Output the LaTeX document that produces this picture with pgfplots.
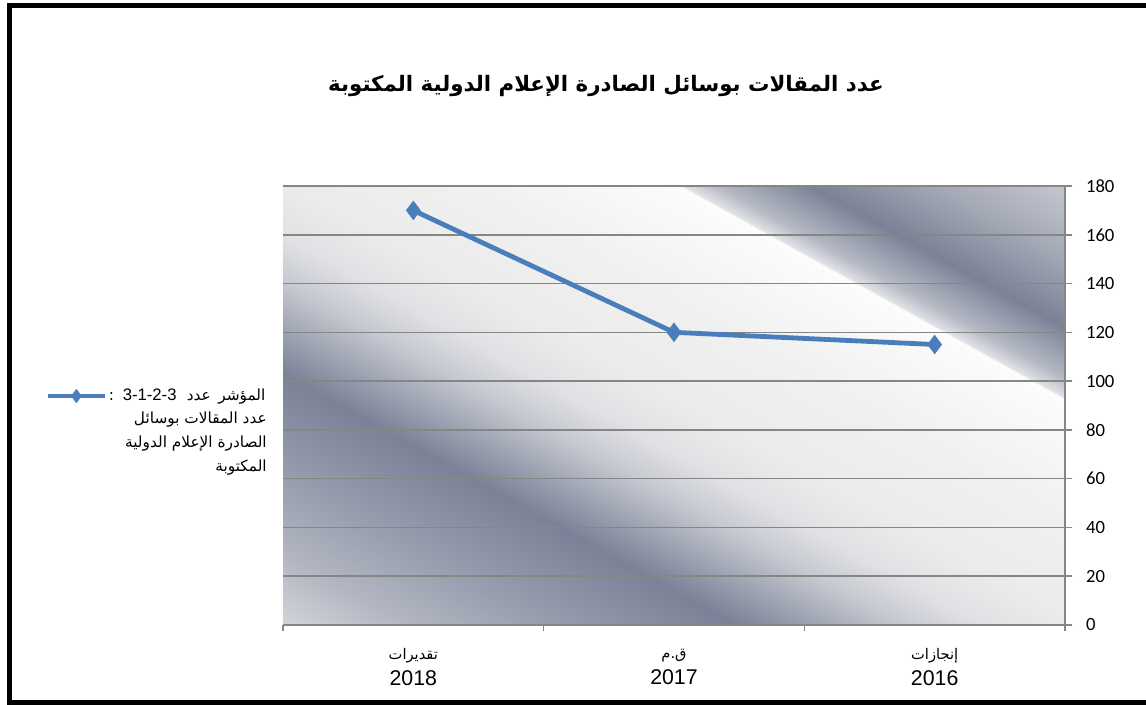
\documentclass[border=0pt]{standalone}
\usepackage{fontspec}
\setmainfont{Liberation Sans}
\newfontfamily\arabicfont[Script=Arabic]{DejaVu Sans}
\newfontfamily\calibri{Carlito}
\usepackage{pgfplots}
\pgfplotsset{compat=1.18}
\TeXXeTstate=1

\definecolor{linecol}{HTML}{4A7EBB}
\definecolor{gridcol}{HTML}{868686}
% diagonal stripes of the plot area, from lower left to upper right
\definecolor{sA}{HTML}{D4D5DA}
\definecolor{sB}{HTML}{B3B7C2}
\definecolor{sC}{HTML}{989EAE}
\definecolor{sD}{HTML}{7B8297}
\definecolor{sE}{HTML}{9EA4B2}
\definecolor{sF}{HTML}{C5C8D0}
\definecolor{sG}{HTML}{E0E1E4}
\definecolor{sH}{HTML}{EBEBEB}
\definecolor{sI}{HTML}{F0F0F0}
\definecolor{sJ}{HTML}{FCFCFC}
\definecolor{sK}{HTML}{E2E3E7}
\definecolor{sL}{HTML}{B5B9C4}
\definecolor{sM}{HTML}{A3A8B5}
\pgfdeclarehorizontalshading{bgstripes}{675pt}{color(0pt)=(sA); color(45pt)=(sB);
  color(97.5pt)=(sC); color(165pt)=(sD); color(195pt)=(sE); color(225pt)=(sF);
  color(255pt)=(sG); color(288.75pt)=(sH); color(352.5pt)=(sI); color(432.75pt)=(sJ);
  color(433.5pt)=(sK); color(446.25pt)=(sL); color(480pt)=(sD); color(525pt)=(sM);
  color(573pt)=(sF)}

\begin{document}
\begin{tikzpicture}
\begin{scope}[x=0.75pt,y=0.75pt]
\useasboundingbox (0,0) rectangle (1146,704);
\begin{scope}
  \clip (283,79) rectangle (1065,518);
  \node[inner sep=0pt,outer sep=0pt,rotate=61] at (674,298.5) {\pgfuseshading{bgstripes}};
\end{scope}
\draw[line width=3.75pt] (1160,2) -- (9,2) -- (9,698) -- (1160,698);
\node[font=\arabicfont\bfseries\fontsize{16}{18}\selectfont] at (606,618)
  {\beginR عدد المقالات بوسائل الصادرة الإعلام الدولية المكتوبة\endR};
\end{scope}

\begin{axis}[
  at={(212.25pt,59.25pt)},anchor=south west,
  scale only axis,width=586.5pt,height=329.25pt,
  xmin=0.5,xmax=3.5,ymin=0,ymax=180,
  axis x line*=bottom,axis y line*=right,
  axis line style={draw=gridcol,line width=1.1pt},
  xtick={1,2,3},
  xticklabels={
    {\arabicfont\fontsize{11}{19.5}\selectfont\beginR تقديرات\endR}\\2018,
    {\arabicfont\fontsize{11}{19.5}\selectfont\beginR ق.م\endR}\\2017,
    {\arabicfont\fontsize{11}{19.5}\selectfont\beginR إنجازات\endR}\\2016},
  minor xtick={0.5,1.5,2.5,3.5},
  ytick={0,20,...,180},
  tick align=outside,
  major tick length=5.25pt,minor tick length=4.5pt,
  major x tick style={draw=none},
  minor x tick style={draw=gridcol,line width=1.1pt},
  y tick style={draw=gridcol,line width=1.1pt},
  ymajorgrids=true,
  grid style={draw=gridcol,line width=1.1pt},
  xticklabel style={align=center,font=\fontsize{16}{19.5}\selectfont,yshift=-9pt},
  yticklabel style={font=\calibri\fontsize{14}{16}\selectfont,xshift=7pt},
  /pgf/number format/assume math mode=true,
  legend style={at={(axis description cs:-0.0205,0.5216)},anchor=east,
    draw=none,fill=none,inner sep=0pt,
    font=\arabicfont\fontsize{11.5}{13}\selectfont,nodes={inner sep=1pt}},
  legend image code/.code={\draw[mark repeat=2,mark phase=2,#1,mark size=5pt]
    plot coordinates {(0pt,0pt) (21.5pt,0pt) (43pt,0pt)};},
]
\addplot[color=linecol,line width=3.6pt,mark=diamond*,mark size=7pt,
  mark options={solid,line width=0.4pt}]
  coordinates {(1,170) (2,120) (3,115)};
\addlegendentry{\beginR المؤشر\hspace{2pt} عدد\hspace{4pt} \beginL{\rmfamily\fontsize{12.5}{13}\selectfont 3-1-2-3}\endL{}\hspace{3pt} :\endR}
\end{axis}

\begin{scope}[x=0.75pt,y=0.75pt,
  every node/.style={anchor=base east,inner sep=0pt,font=\arabicfont\fontsize{11.5}{13}\selectfont}]
\node at (267,280) {\beginR عدد المقالات بوسائل\endR};
\node at (267,256) {\beginR الصادرة الإعلام الدولية\endR};
\node at (267,233) {\beginR المكتوبة\endR};
\end{scope}
\end{tikzpicture}
\end{document}
